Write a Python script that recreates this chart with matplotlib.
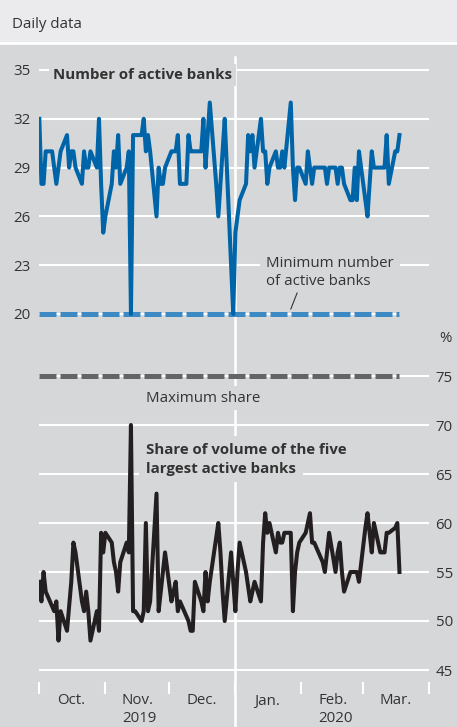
import numpy as np
import pandas as pd
import matplotlib
matplotlib.use('Agg')
import matplotlib.pyplot as plt
from matplotlib.patches import Rectangle
from matplotlib.transforms import blended_transform_factory

plt.rcParams['font.family'] = ['Open Sans', 'DejaVu Sans']

# daily data (business days), 1 Oct 2019 - 18 Mar 2020
dates = pd.bdate_range('2019-10-01', '2020-03-18')

active_banks = [
    # Oct.
    32, 28, 28, 30, 30, 29, 28, 29, 30, 31, 29, 30, 30, 29, 28, 30, 29, 29, 30, 29, 32, 28, 25,
    # Nov.
    26, 28, 30, 29, 31, 28, 29, 30, 20, 31, 31, 31, 32, 30, 31, 30, 26, 29, 28, 28, 29,
    # Dec.
    30, 30, 30, 31, 28, 28, 31, 30, 30, 30, 30, 32, 29, 31, 33, 28, 26, 28, 30, 32, 23, 20,
    # Jan.
    25, 26, 27, 28, 31, 30, 31, 29, 32, 30, 30, 28, 29, 30, 29, 29, 30, 29, 33, 29, 27, 29, 29,
    # Feb.
    28, 30, 29, 28, 29, 29, 29, 29, 28, 29, 29, 28, 29, 29, 28, 27, 27, 29, 27, 30,
    # Mar.
    27, 26, 28, 30, 29, 29, 29, 29, 31, 28, 30, 30, 31,
]

top5_share = [
    # Oct.
    54, 52, 55, 53, 51.5, 51, 52, 48, 51, 49, 51.5, 54, 58, 57, 52, 51, 53, 51, 48, 51, 49, 59, 57,
    # Nov.
    59, 58, 56, 55, 53, 56, 58, 57, 70, 51, 51, 50, 51, 60, 51, 52, 63, 51, 53, 55, 57,
    # Dec.
    52, 53, 54, 51, 52, 50.5, 50, 49, 49, 54, 52, 51, 55, 52, 54, 58.5, 60, 57, 53, 50, 57, 54,
    # Jan.
    51, 55, 58, 55, 53.5, 52, 53, 54, 52, 58, 61, 59, 60, 57, 59, 58, 58, 59, 59, 51, 55, 57, 58,
    # Feb.
    59, 60, 61, 58, 58, 56.5, 56, 55, 57, 59, 55, 57, 58, 55, 53, 55, 55, 55, 55, 54,
    # Mar.
    59.5, 61, 59, 57, 60, 57, 57, 57, 59, 59, 59.5, 60, 55,
]

min_banks = 20
max_share = 75

bank_ticks = [20, 23, 26, 29, 32, 35]
share_ticks = [45, 50, 55, 60, 65, 70, 75]
month_labels = ['Oct.', 'Nov.', 'Dec.', 'Jan.', 'Feb.', 'Mar.']
year_labels = ['2019', '2020']

month_starts = pd.date_range('2019-10-01', '2020-04-01', freq='MS')
month_mids = month_starts[:-1] + pd.Timedelta(days=15)
year_mids = [pd.Timestamp('2019-11-17'), pd.Timestamp('2020-02-17')]
year_break = pd.Timestamp('2020-01-01')

W, H = 457, 727
X0, X1 = 39.3, 429.3
BG = '#d6d7d9'
HEADER = '#ebebed'
TXT = '#333333'
BLUE = '#0064a8'
BLUE_DASH = '#3d89c4'
GREY_DASH = '#646464'
BLACK = '#231f20'
FS = 10.8


def add_box(top, bottom):
    ax = fig.add_axes([X0 / W, 1 - bottom / H, (X1 - X0) / W, (bottom - top) / H])
    ax.set_facecolor('none')
    for s in ax.spines.values():
        s.set_visible(False)
    ax.set_xlim(month_starts[0], month_starts[-1])
    return ax


def fit_ylim(ax, v_lo, p_lo, v_hi, p_hi, top, bottom):
    scale = (p_lo - p_hi) / (v_hi - v_lo)
    ax.set_ylim(v_lo - (bottom - p_lo) / scale, v_hi + (p_hi - top) / scale)


fig = plt.figure(figsize=(W / 100, H / 100), dpi=100, facecolor='white')
fig.add_artist(Rectangle((0, 1 - 41 / H), 1, 41 / H, transform=fig.transFigure,
                         color=HEADER, zorder=-5))
fig.add_artist(Rectangle((0, 0), 1, 1 - 45 / H, transform=fig.transFigure,
                         color=BG, zorder=-5))
fig.text(12.5 / W, 1 - 28.3 / H, 'Daily data', fontsize=FS, color=TXT, va='baseline')

box = lambda p: dict(boxstyle='square,pad=%s' % p, fc=BG, ec='none')

# ---- top panel: number of active banks
top1, bot1 = 55, 330
ax1 = add_box(top1, bot1)
fit_ylim(ax1, 20, 314, 35, 70, top1, bot1)
for lvl in bank_ticks[1:]:
    ax1.axhline(lvl, color='white', lw=1.5, zorder=1)
ax1.plot([dates[0], dates[-1]], [min_banks] * 2, color='white', lw=1.5, zorder=1)
ax1.axvline(year_break, ymin=(bot1 - H) / (bot1 - top1), ymax=(bot1 - 57) / (bot1 - top1),
            color='white', lw=1.8, zorder=1, clip_on=False)
ax1.plot([dates[0], dates[-1]], [min_banks] * 2, color=BLUE_DASH, lw=3.6,
         dashes=(3.4, 0.8), zorder=3)
ax1.plot(dates, active_banks, color=BLUE, lw=2.9, zorder=4)

ax1.text(pd.Timestamp('2019-10-07 10:00'), 34.44, 'Number of active banks', fontsize=FS,
         fontweight='bold', color=TXT, va='baseline', bbox=box(0.25), zorder=3)
ax1.text(pd.Timestamp('2020-01-15 10:00'), 22.88, 'Minimum number', fontsize=FS,
         color=TXT, va='baseline', bbox=box(0.4), zorder=3)
ax1.text(pd.Timestamp('2020-01-15 10:00'), 21.81, 'of active banks', fontsize=FS,
         color=TXT, va='baseline', zorder=3)
ax1.annotate('', xy=(pd.Timestamp('2020-01-27'), 20.3),
             xytext=(pd.Timestamp('2020-01-30'), 21.3),
             arrowprops=dict(arrowstyle='-', color=TXT, lw=0.8, shrinkA=0, shrinkB=0))

ax1.set_xticks([])
ax1.set_yticks(bank_ticks)
ax1.tick_params(axis='y', length=0, pad=6.5, labelsize=FS, labelcolor=TXT)

# ---- bottom panel: share of the five largest banks
top2, bot2 = 340, 693.5
ax2 = add_box(top2, bot2)
fit_ylim(ax2, 45, 670, 75, 376, top2, bot2)
for lvl in share_ticks:
    ax2.axhline(lvl, color='white', lw=1.5, zorder=1)
ax2.plot([dates[0], dates[-1]], [max_share] * 2, color=GREY_DASH, lw=3.6,
         dashes=(3.4, 0.8), zorder=3)
ax2.plot(dates, top5_share, color=BLACK, lw=2.9, zorder=4)

ax2.text(pd.Timestamp('2019-11-20'), 72.36, 'Maximum share', fontsize=FS, color=TXT,
         va='baseline', bbox=box(0.3), zorder=3)
ax2.text(pd.Timestamp('2019-11-20'), 67.05, 'Share of volume of the five', fontsize=FS,
         fontweight='bold', color=TXT, va='baseline', bbox=box(0.45), zorder=3)
ax2.text(pd.Timestamp('2019-11-20'), 65.15, 'largest active banks', fontsize=FS,
         fontweight='bold', color=TXT, va='baseline', bbox=box(0.45), zorder=3)

ax2.yaxis.tick_right()
ax2.set_yticks(share_ticks)
ax2.tick_params(axis='y', length=0, pad=4.5, labelsize=FS, labelcolor=TXT)
ax2.text(1.026, 78.46, '%', transform=blended_transform_factory(ax2.transAxes, ax2.transData),
         fontsize=FS, color=TXT, va='baseline')

ax2.set_xticks(month_starts)
ax2.set_xticks(month_mids, labels=month_labels, minor=True)
ax2.tick_params(axis='x', which='major', direction='in', length=8.4, width=1.5,
                color='white', labelbottom=False)
ax2.tick_params(axis='x', which='minor', length=0, pad=0, labelsize=FS, labelcolor=TXT)
yr = blended_transform_factory(ax2.transData, fig.transFigure)
for d, lab in zip(year_mids, year_labels):
    ax2.text(d, 0.5 / H, lab, transform=yr, fontsize=FS, color=TXT, ha='center', va='bottom')

fig.savefig('out.png', dpi=100, facecolor=fig.get_facecolor())
